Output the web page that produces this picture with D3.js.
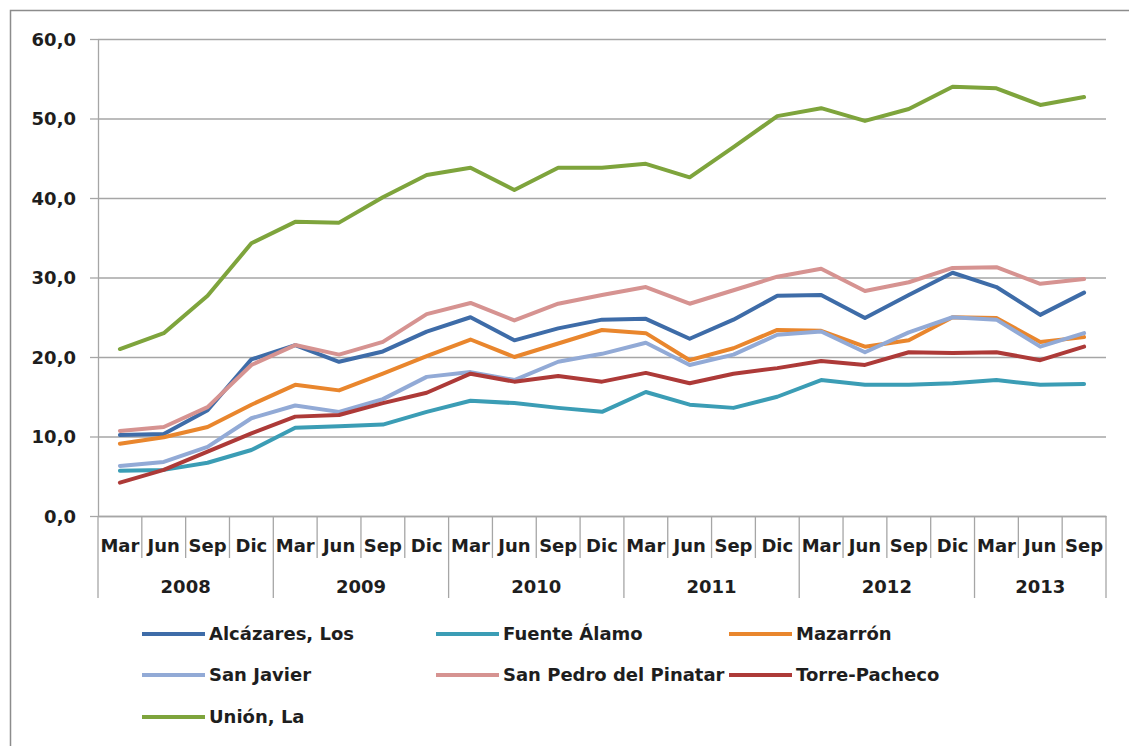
<!DOCTYPE html>
<meta charset="utf-8">

<style>
body { margin: 0; background: #fff; }
text { font-family: "DejaVu Sans", Verdana, sans-serif; font-weight: bold; fill: #1e1e1e; }
.grid line { stroke: #a6a6a6; stroke-width: 1.3px; }
.sep { stroke: #a6a6a6; stroke-width: 1.3px; }
.series { fill: none; stroke-width: 4px; stroke-linejoin: round; stroke-linecap: round; }
</style>

<body>
<svg width=1129 height=746></svg>
</body>

<script src="https://d3js.org/d3.v7.min.js"></script>
<script>
const months = ["Mar","Jun","Sep","Dic"]
const years = ["2008","2009","2010","2011","2012","2013"]
// quarters: Mar 2008 .. Sep 2013
const quarters = []
years.forEach(y => months.forEach(m => { if (!(y == "2013" && m == "Dic")) quarters.push({y, m}) }))

const names = ["Alcázares, Los","Fuente Álamo","Mazarrón","San Javier","San Pedro del Pinatar","Torre-Pacheco","Unión, La"]
const colors = ["#3e6ca8","#3b9db5","#e9862d","#92aad6","#d69391","#ad3a38","#7ea43c"]

const alcazares = [10.2,10.3,13.3,19.7,21.5,19.4,20.7,23.2,25.0,22.1,23.6,24.7,24.8,22.3,24.7,27.7,27.8,24.9,27.8,30.6,28.8,25.3,28.1]
const fuenteAlamo = [5.7,5.8,6.7,8.3,11.1,11.3,11.5,13.1,14.5,14.2,13.6,13.1,15.6,14.0,13.6,15.0,17.1,16.5,16.5,16.7,17.1,16.5,16.6]
const mazarron = [9.1,9.9,11.2,14.0,16.5,15.8,17.9,20.1,22.2,20.0,21.7,23.4,23.0,19.6,21.1,23.4,23.3,21.3,22.1,25.0,24.9,21.9,22.5]
const sanJavier = [6.3,6.8,8.7,12.3,13.9,13.1,14.7,17.5,18.1,17.1,19.4,20.4,21.8,19.0,20.3,22.8,23.2,20.6,23.1,25.0,24.7,21.3,23.0]
const sanPedro = [10.7,11.2,13.7,19.0,21.5,20.3,21.9,25.4,26.8,24.6,26.7,27.8,28.8,26.7,28.4,30.1,31.1,28.3,29.4,31.2,31.3,29.2,29.8]
const torrePacheco = [4.2,5.8,8.1,10.4,12.5,12.7,14.2,15.5,17.9,16.9,17.6,16.9,18.0,16.7,17.9,18.6,19.5,19.0,20.6,20.5,20.6,19.6,21.3]
const unionLa = [21.0,23.0,27.7,34.3,37.0,36.9,40.1,42.9,43.8,41.0,43.8,43.8,44.3,42.6,46.4,50.3,51.3,49.7,51.2,54.0,53.8,51.7,52.7]
const series = [alcazares, fuenteAlamo, mazarron, sanJavier, sanPedro, torrePacheco, unionLa]

const yTicks = [0,10,20,30,40,50,60]

const svg = d3.select("svg")

// outer frame (top and left edges visible)
svg.append("path")
  .attr("d", "M10.5,746 L10.5,10.5 L1129,10.5")
  .attr("fill", "none").attr("stroke", "#8c8c8c").attr("stroke-width", 1.5)

const plotL = 98, plotR = 1106, plotT = 39, plotB = 516

const x = d3.scaleBand().domain(d3.range(quarters.length)).range([plotL, plotR])
const y = d3.scaleLinear().domain([0, 60]).range([plotB, plotT])

// y axis with gridlines
const yAxis = svg.append("g")
  .attr("class", "grid")
  .attr("transform", `translate(${plotL},0)`)
  .call(d3.axisLeft(y).tickValues(yTicks).tickSizeInner(-(plotR - plotL)).tickSizeOuter(0)
    .tickFormat(d => d3.format(".1f")(d).replace(".", ",")))
yAxis.select(".domain").attr("stroke", "#a6a6a6").attr("stroke-width", 1.3)
yAxis.selectAll(".tick line").clone().attr("x2", -8)
yAxis.selectAll(".tick text")
  .attr("x", -22).attr("dy", "0.35em")
  .style("font-size", "18px")

// x axis: month labels
const xAxis = svg.append("g")
  .attr("transform", `translate(0,${plotB})`)
  .call(d3.axisBottom(x).tickSize(0).tickFormat(i => quarters[i].m))
xAxis.select(".domain").attr("stroke", "#a6a6a6").attr("stroke-width", 1.3)
xAxis.selectAll(".tick text").attr("y", 0).attr("dy", "36px").style("font-size", "18px")

// category separators
const sep = svg.append("g")
d3.range(quarters.length + 1).forEach(i => {
  const xp = i < quarters.length ? x(i) : x(quarters.length - 1) + x.bandwidth()
  const isYear = i % 4 == 0 || i == quarters.length
  sep.append("line").attr("class", "sep")
    .attr("x1", xp).attr("x2", xp)
    .attr("y1", plotB).attr("y2", isYear ? 598 : 558)
})

// year labels
years.forEach(yr => {
  const idx = quarters.map((q, i) => q.y == yr ? i : -1).filter(i => i >= 0)
  const x0 = x(idx[0]), x1 = x(idx[idx.length - 1]) + x.bandwidth()
  svg.append("text")
    .attr("x", (x0 + x1) / 2).attr("y", 593)
    .attr("text-anchor", "middle")
    .style("font-size", "18px")
    .text(yr)
})

// lines
const line = d3.line().x((d, i) => x(i) + x.bandwidth() / 2).y(d => y(d))
svg.append("g").selectAll("path")
  .data(series)
  .join("path")
    .attr("class", "series")
    .attr("stroke", (d, i) => colors[i])
    .attr("d", line)

// legend
const legX = [142, 436, 729], legY = [634, 675, 717]
const leg = svg.append("g")
names.forEach((n, i) => {
  const lx = legX[i % 3], ly = legY[Math.floor(i / 3)]
  leg.append("line")
    .attr("x1", lx).attr("x2", lx + 63).attr("y1", ly).attr("y2", ly)
    .attr("stroke", colors[i]).attr("stroke-width", 4)
  leg.append("text")
    .attr("x", lx + 67).attr("y", ly).attr("dy", "0.35em")
    .style("font-size", "18px")
    .text(n)
})
</script>
